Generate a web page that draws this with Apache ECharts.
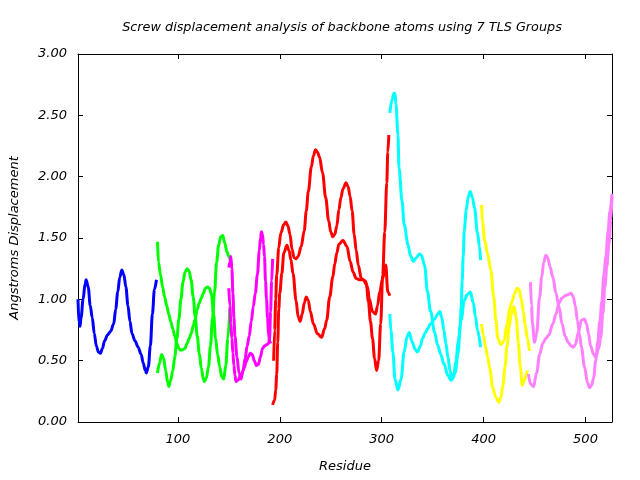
<!DOCTYPE html>
<html><head><meta charset="utf-8">
<script src="https://cdn.jsdelivr.net/npm/echarts@6/dist/echarts.min.js"></script>
<style>html,body{margin:0;padding:0;background:#fff}#c{width:640px;height:480px}</style>
</head><body><div id="c"></div>
<script>
const titleText = 'Screw displacement analysis of backbone atoms using 7 TLS Groups';
const xName = 'Residue';
const yName = 'Angstroms Displacement';
const xTicks = [100, 200, 300, 400, 500];

// Group 1 (blue)
const b1Res = [2,3,4,5,7,9,10,12,14,16,18,20,22,24,26,28,31,34,37,39,41,43,45,47,49,51,53,55,58,61,64,66,68,69,71,73,75,77,79];
const b1Val = [1.00,0.80,0.78,0.85,1.00,1.13,1.16,1.10,0.95,0.85,0.72,0.62,0.57,0.56,0.60,0.66,0.71,0.74,0.80,0.92,1.06,1.18,1.24,1.20,1.10,0.95,0.82,0.72,0.66,0.61,0.55,0.48,0.42,0.40,0.45,0.62,0.88,1.08,1.16];

// Group 2 (green)
const gARes = [80,81,83,85,87,89,91,93,95,97,99,101,103,105,107,109,111,113,115,117,119,121,123,125,127,129,131,133,135,137,139,141,143,145,147,149,151];
const gAVal = [1.47,1.30,1.20,1.10,1.02,0.95,0.88,0.82,0.76,0.70,0.64,0.60,0.585,0.59,0.60,0.64,0.68,0.72,0.78,0.84,0.92,0.97,1.01,1.05,1.09,1.10,1.09,1.04,0.88,0.68,0.55,0.45,0.37,0.35,0.46,0.68,0.92];
const gBRes = [80,82,84,86,88,90,91,93,95,97,99,101,103,105,107,109,111,113,115,117,119,121,123,125,126,128,130,132,134,136,138,140,142,144,146,148,150,151];
const gBVal = [0.40,0.48,0.55,0.52,0.42,0.32,0.29,0.34,0.42,0.53,0.68,0.84,1.00,1.14,1.22,1.25,1.23,1.16,1.02,0.86,0.70,0.56,0.44,0.35,0.33,0.36,0.45,0.62,0.85,1.06,1.30,1.44,1.51,1.52,1.46,1.39,1.35,1.33];

// Group 3 (magenta)
const mARes = [150,151,152,153,154,155,156,157,159,161,163,165,167,169,171,173,175,177,179,181,183,185,187,189,190,191,192,193];
const mAVal = [1.09,0.95,0.80,0.68,0.56,0.46,0.38,0.33,0.34,0.37,0.40,0.44,0.49,0.53,0.56,0.55,0.50,0.46,0.47,0.53,0.60,0.62,0.63,0.64,0.68,0.90,1.15,1.33];
const mBRes = [150,151,152,153,154,155,156,158,160,162,164,166,168,170,172,174,176,178,180,181,182,183,184,185,186,187,188,189,190,191];
const mBVal = [1.26,1.30,1.35,1.25,1.05,0.85,0.70,0.53,0.40,0.35,0.42,0.52,0.62,0.70,0.82,0.94,1.05,1.20,1.40,1.50,1.55,1.53,1.45,1.35,1.15,1.00,0.85,0.72,0.66,0.64];

// Group 4 (red)
const rARes = [193,195,196,197,198,199,200,202,204,207,209,211,213,216,218,220,222,224,226,228,230,233,237,241,244,246,249,252,254,256,258,262,266,269,272,275,278,281,284,286,288,291,294,296,298,301,304,306,308];
const rAVal = [0.14,0.18,0.26,0.39,0.65,0.92,1.05,1.21,1.38,1.44,1.40,1.32,1.21,0.99,0.86,0.82,0.88,0.97,1.02,0.99,0.90,0.80,0.72,0.69,0.76,0.83,1.02,1.18,1.29,1.38,1.45,1.48,1.43,1.31,1.22,1.17,1.16,1.16,1.15,1.10,1.00,0.90,0.88,0.95,1.06,1.17,1.28,1.06,1.03];
const rBRes = [194,195,196,197,199,201,204,206,208,210,212,214,216,218,221,224,226,228,231,233,235,237,239,242,245,248,250,252,254,256,258,260,262,265,267,269,271,273,275,277,280,282,285,287,289,291,293,295,297,299,301,303,305,306,307];
const rBVal = [0.50,0.75,1.00,1.20,1.42,1.54,1.61,1.63,1.60,1.53,1.41,1.34,1.33,1.35,1.43,1.56,1.72,1.88,2.08,2.17,2.22,2.20,2.16,2.03,1.83,1.64,1.55,1.51,1.53,1.60,1.73,1.83,1.90,1.95,1.92,1.84,1.72,1.53,1.40,1.28,1.17,1.16,1.12,0.98,0.82,0.68,0.52,0.42,0.50,0.80,1.20,1.55,1.95,2.20,2.34];

// Group 5 (cyan)
const cARes = [308,310,312,313,314,316,317,320,322,326,328,331,334,337,339,342,345,348,352,355,358,361,365,368,370,372,375,377,378,379,380,381,383,385,387,389,391,394,396,397];
const cAVal = [2.52,2.62,2.68,2.68,2.59,2.34,2.07,1.80,1.61,1.44,1.36,1.31,1.34,1.37,1.36,1.28,1.06,0.90,0.73,0.625,0.55,0.475,0.38,0.34,0.36,0.40,0.56,0.78,0.94,1.15,1.35,1.56,1.73,1.84,1.88,1.83,1.75,1.54,1.43,1.32];
const cBRes = [308,309,311,313,316,319,322,325,327,330,333,335,338,340,343,345,348,352,355,357,359,361,363,365,367,369,371,373,375,378,381,384,387,390,392,394,397];
const cBVal = [0.88,0.75,0.57,0.35,0.26,0.35,0.57,0.70,0.73,0.65,0.59,0.57,0.62,0.68,0.73,0.76,0.80,0.84,0.88,0.90,0.85,0.75,0.64,0.53,0.42,0.345,0.40,0.50,0.65,0.83,0.99,1.04,1.06,0.97,0.86,0.75,0.61];

// Group 6 (yellow)
const yARes = [398,399,401,404,407,410,412,414,417,420,423,426,428,430,433,435,437,439,441,443,445];
const yAVal = [1.77,1.62,1.48,1.37,1.24,1.02,0.83,0.68,0.63,0.66,0.80,0.94,0.98,1.04,1.09,1.08,1.00,0.90,0.78,0.68,0.58];
const yBRes = [398,400,402,404,406,409,412,415,417,419,421,423,425,427,429,430,432,434,436,438,440,442,443];
const yBVal = [0.80,0.70,0.61,0.53,0.44,0.28,0.20,0.16,0.20,0.30,0.45,0.62,0.77,0.87,0.93,0.94,0.85,0.65,0.45,0.30,0.34,0.39,0.42];

// Group 7 (violet)
const vARes = [446,447,448,450,452,455,457,459,461,463,465,468,471,474,477,480,483,486,488,490,493,496,499,501,503,505,508,510,513,515,517,519,521,523,525,526];
const vAVal = [1.14,0.95,0.80,0.65,0.72,1.02,1.18,1.30,1.36,1.34,1.27,1.18,1.05,0.94,0.80,0.70,0.65,0.62,0.61,0.63,0.73,0.83,0.84,0.80,0.72,0.62,0.55,0.53,0.60,0.69,0.88,1.10,1.27,1.45,1.65,1.84];
const vBRes = [444,446,449,452,455,458,461,464,468,471,474,477,480,483,486,488,490,492,494,496,499,502,504,506,508,510,512,514,516,518,520,522,524,526];
const vBVal = [0.39,0.31,0.29,0.40,0.55,0.64,0.68,0.71,0.80,0.88,0.97,1.01,1.03,1.04,1.05,1.02,0.95,0.83,0.72,0.61,0.45,0.32,0.28,0.30,0.36,0.50,0.65,0.82,0.98,1.20,1.35,1.55,1.72,1.86];

const curves = [
  [b1Res, b1Val, '#0000ff'],
  [gARes, gAVal, '#00ff00'], [gBRes, gBVal, '#00ff00'],
  [mARes, mAVal, '#ff00ff'], [mBRes, mBVal, '#ff00ff'],
  [rARes, rAVal, '#ff0000'], [rBRes, rBVal, '#ff0000'],
  [cARes, cAVal, '#00ffff'], [cBRes, cBVal, '#00ffff'],
  [yARes, yAVal, '#ffff00'], [yBRes, yBVal, '#ffff00'],
  [vARes, vAVal, '#ff80ff'], [vBRes, vBVal, '#ff80ff']
];

const FONT = 'DejaVu Sans';
const chart = echarts.init(document.getElementById('c'), null, {renderer: 'canvas'});
const axisCommon = {
  axisLine: {show: true, onZero: false, lineStyle: {color: '#000', width: 1}},
  splitLine: {show: false}
};
chart.setOption({
  animation: false,
  backgroundColor: '#fff',
  graphic: [{
    type: 'text', x: 342, y: 28,
    style: {text: titleText, font: 'italic 12.8px "' + FONT + '"', fill: '#000', textAlign: 'center', textVerticalAlign: 'middle'}
  }],
  grid: {left: 77, right: 28, top: 54, bottom: 58},
  xAxis: [
    Object.assign({}, axisCommon, {
      type: 'value', min: 2, max: 526, position: 'bottom',
      axisTick: {show: true, inside: true, length: 5, customValues: xTicks, lineStyle: {color: '#000'}},
      axisLabel: {customValues: xTicks, margin: 11, color: '#000', fontFamily: FONT, fontStyle: 'italic', fontSize: 13},
      name: xName, nameLocation: 'middle', nameGap: 38,
      nameTextStyle: {color: '#000', fontFamily: FONT, fontStyle: 'italic', fontSize: 13}
    }),
    Object.assign({}, axisCommon, {
      type: 'value', min: 2, max: 526, position: 'top',
      axisTick: {show: true, inside: true, length: 5, customValues: xTicks, lineStyle: {color: '#000'}},
      axisLabel: {show: false}
    })
  ],
  yAxis: [
    Object.assign({}, axisCommon, {
      type: 'value', min: 0, max: 3, interval: 0.5, position: 'left',
      axisTick: {show: true, inside: true, length: 5, lineStyle: {color: '#000'}},
      axisLabel: {margin: 11, color: '#000', fontFamily: FONT, fontStyle: 'italic', fontSize: 13, formatter: v => v.toFixed(2)},
      name: yName, nameLocation: 'middle', nameGap: 57,
      nameTextStyle: {color: '#000', fontFamily: FONT, fontStyle: 'italic', fontSize: 13}
    }),
    Object.assign({}, axisCommon, {
      type: 'value', min: 0, max: 3, interval: 0.5, position: 'right',
      axisTick: {show: true, inside: true, length: 5, lineStyle: {color: '#000'}},
      axisLabel: {show: false}
    })
  ],
  series: curves.map(c => ({
    type: 'line',
    xAxisIndex: 0, yAxisIndex: 0,
    data: c[0].map((r, i) => [r, c[1][i]]),
    showSymbol: false,
    smooth: 0.35,
    smoothMonotone: 'x',
    clip: true,
    lineStyle: {color: c[2], width: 3},
    itemStyle: {color: c[2]}
  }))
});
</script></body></html>
